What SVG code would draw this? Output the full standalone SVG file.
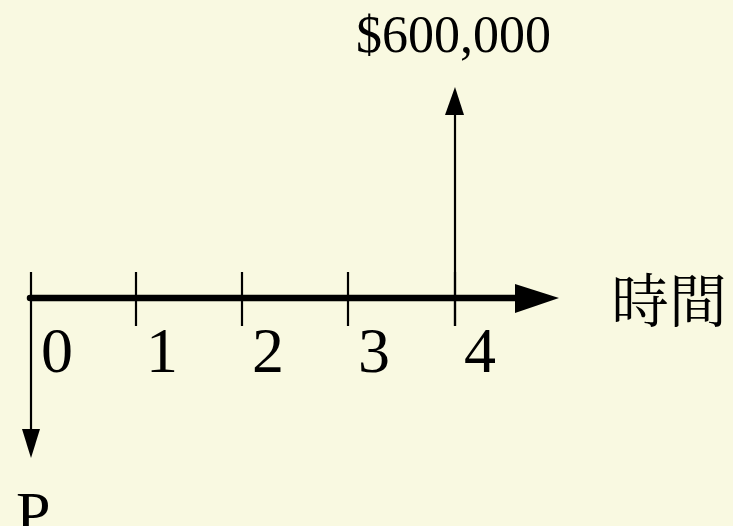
<svg xmlns="http://www.w3.org/2000/svg" width="733" height="526" viewBox="0 0 733 526">
<style>
.t{font-family:"Liberation Serif","Times New Roman",serif;fill:#000}
.ax{stroke:#000;stroke-width:6.5;stroke-linecap:round;fill:none}
.tk{stroke:#000;stroke-width:2.2;fill:none}
.ar{fill:#000}
</style>
<rect width="733" height="526" fill="#F9F9E1"/>
<g id="connectors">
<line class="ax" x1="30" y1="298" x2="520" y2="298"/>
<polygon class="ar" points="515,284 559,298 515,313"/>
<line class="tk" x1="31" y1="272" x2="31" y2="432"/>
<polygon class="ar" points="22,429 40,429 31,458"/>
<line class="tk" x1="455" y1="326" x2="455" y2="112"/>
<polygon class="ar" points="445,115 464,115 455,87"/>
</g>
<g id="ticks">
<line class="tk" x1="136" y1="272" x2="136" y2="326"/>
<line class="tk" x1="242" y1="272" x2="242" y2="326"/>
<line class="tk" x1="348" y1="272" x2="348" y2="326"/>
<line class="tk" x1="455" y1="272" x2="455" y2="326"/>
</g>
<g id="labels">
<text class="t" x="41" y="372" font-size="64">0</text>
<text class="t" x="146" y="372" font-size="64">1</text>
<text class="t" x="252" y="372" font-size="64">2</text>
<text class="t" x="358" y="372" font-size="64">3</text>
<text class="t" x="464" y="372" font-size="64">4</text>
<text class="t" x="16" y="534" font-size="62">P</text>
<text class="t" x="356" y="52" font-size="52">$600,000</text>
<text x="611" y="322" font-size="58" font-family="'Noto Serif CJK TC','Noto Sans CJK TC',serif">時間</text>
</g>
</svg>
